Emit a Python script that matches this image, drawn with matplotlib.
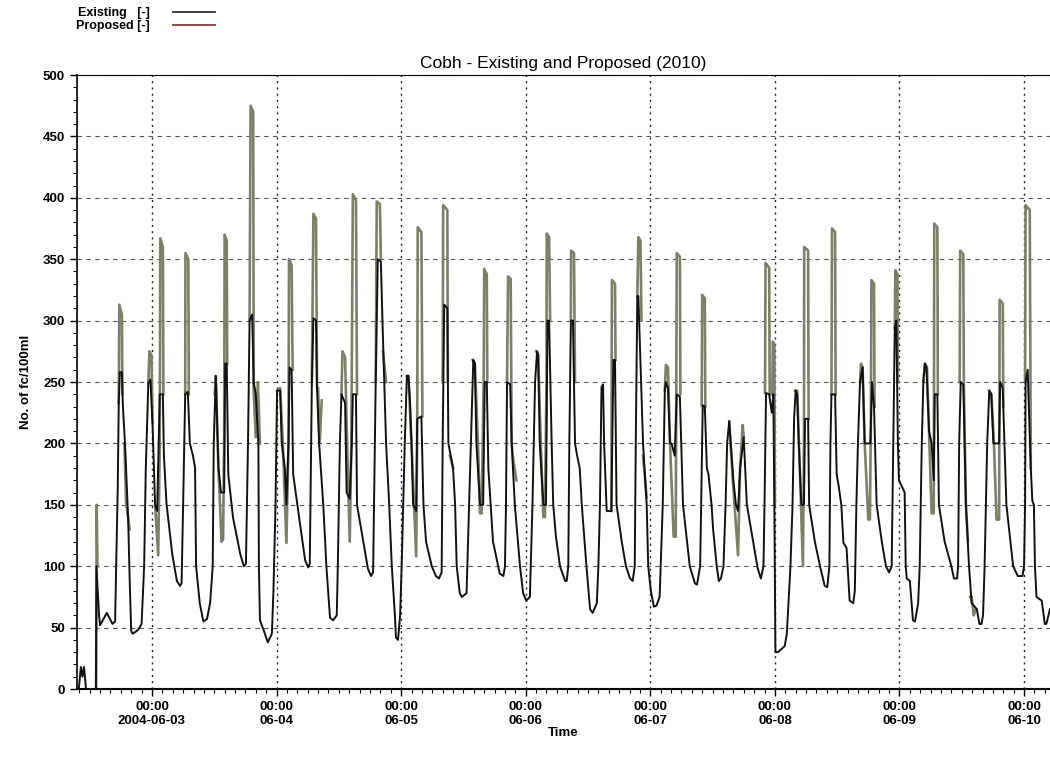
import numpy as np
import pandas as pd
import matplotlib
matplotlib.use("Agg")
import matplotlib.pyplot as plt
import matplotlib.dates as mdates
from matplotlib.ticker import MultipleLocator, FuncFormatter
from matplotlib.lines import Line2D

plt.rcParams['font.family'] = ['Liberation Sans', 'DejaVu Sans']

start = pd.Timestamp("2004-06-02 00:00")

# Existing - hours since 2004-06-02 00:00 and fc/100ml
existing_hours = [
    9.6, 9.9, 10.3, 10.6, 10.9, 11.3, 13.2, 13.3, 13.8, 14.0, 15.3, 16.4, 16.9, 17.1, 17.4, 17.6, 17.8, 18.2,
    18.4, 18.8, 19.4, 19.7, 20.0, 20.3, 21.3, 22.0, 22.5, 22.8, 23.3, 23.7, 24.1, 24.6, 25.0, 25.3, 25.5,
    26.1, 26.3, 26.8, 27.9, 28.8, 29.4, 29.7, 30.0, 30.4, 30.9, 31.3, 31.9, 32.3, 32.5, 33.2, 33.9, 34.6,
    35.2, 35.7, 35.9, 36.3, 36.8, 37.3, 37.9, 38.1, 38.4, 38.7, 39.6, 41.0, 41.7, 42.1, 42.3, 42.5, 42.8,
    43.3, 43.6, 44.0, 44.5, 44.6, 44.8, 45.6, 46.3, 47.1, 47.4, 47.8, 48.1, 48.7, 49.0, 49.6, 49.9, 50.3,
    50.5, 50.9, 51.2, 52.5, 53.5, 54.1, 54.4, 54.8, 55.1, 55.6, 55.8, 56.2, 57.0, 57.6, 58.3, 58.9, 59.6,
    59.8, 60.2, 60.5, 61.2, 61.5, 62.1, 62.5, 62.7, 63.3, 63.5, 64.7, 65.6, 66.2, 66.6, 67.1, 67.5, 68.1,
    68.4, 69.1, 69.7, 70.2, 70.8, 71.0, 71.4, 71.8, 72.1, 72.4, 72.7, 73.1, 73.4, 73.7, 74.0, 74.3, 74.9,
    75.1, 75.9, 76.3, 76.8, 77.9, 78.7, 79.3, 79.8, 80.0, 80.3, 80.9, 81.1, 82.0, 82.4, 82.7, 83.3, 83.7,
    84.6, 85.1, 85.6, 85.9, 86.2, 86.5, 87.2, 87.8, 88.1, 88.5, 88.8, 89.7, 91.0, 91.7, 92.0, 92.2, 92.4,
    93.0, 93.3, 93.9, 94.9, 95.5, 96.1, 96.8, 97.3, 97.8, 98.2, 98.4, 98.7, 99.4, 99.9, 100.2, 100.5, 101.0,
    101.3, 101.8, 102.6, 103.6, 103.9, 104.2, 104.4, 104.7, 105.1, 105.5, 105.9, 106.4, 106.8, 107.7, 108.4,
    108.9, 109.7, 110.0, 110.3, 110.6, 110.9, 111.1, 111.6, 112.5, 112.9, 113.2, 113.5, 114.5, 115.3, 116.1,
    116.6, 117.0, 117.2, 117.5, 117.7, 118.6, 119.3, 119.6, 120.1, 120.7, 121.2, 121.8, 122.4, 122.8, 123.0,
    123.4, 123.8, 124.1, 124.7, 125.1, 125.7, 126.3, 127.6, 128.6, 129.0, 129.6, 129.8, 130.1, 130.5, 130.9,
    131.2, 131.8, 132.1, 132.8, 133.2, 133.6, 134.1, 134.5, 134.8, 135.2, 135.5, 136.0, 136.5, 136.9, 137.3,
    138.0, 138.6, 139.8, 140.7, 141.3, 141.8, 142.0, 142.3, 142.9, 143.4, 143.7, 143.9, 144.1, 144.6, 145.9,
    146.3, 147.0, 147.4, 147.7, 148.0, 148.3, 148.6, 149.1, 149.6, 149.8, 150.4, 150.6, 151.7, 152.7, 153.6,
    154.1, 154.5, 154.7, 154.9, 155.6, 155.9, 156.3, 156.8, 157.2, 157.8, 158.4, 159.1, 159.4, 159.7, 160.0,
    160.4, 160.9, 161.3, 162.0, 162.4, 162.7, 163.1, 163.6, 164.6, 165.4, 166.0, 166.5, 166.8, 167.1, 167.4,
    167.7, 167.9, 169.0, 169.2, 169.4, 170.0, 170.6, 171.0, 171.6, 171.9, 172.3, 172.6, 172.9, 173.2, 173.7,
    174.2, 174.6, 174.8, 175.3, 175.6, 176.7, 178.0, 178.5, 179.1, 179.3, 179.5, 179.8, 180.3, 180.8, 181.4,
    181.9, 182.9, 183.4, 183.8, 184.1, 184.4, 184.9, 185.3, 185.7, 186.1, 186.7, 187.2, 187.4, 187.9, 188.0,
    188.6, 189.9, 190.8, 191.7, 192.0, 192.2, 192.3, 192.7, 193.3, 193.6, 193.9, 194.1, 194.4, 195.4, 196.0,
    196.3, 197.0,
]
existing_values = [
    0, 0, 18, 10, 18, 0, 0, 100, 60, 52, 62, 53, 55, 100, 162, 233, 258, 258,
    230, 200, 140, 90, 47, 45, 48, 53, 101, 178, 249, 252, 217, 150, 145, 200, 240,
    240, 190, 151, 110, 88, 84, 86, 150, 240, 242, 200, 190, 180, 100, 70, 55, 57,
    70, 100, 200, 255, 180, 160, 160, 265, 265, 175, 140, 110, 100, 102, 150, 200, 300,
    305, 250, 240, 200, 100, 56, 47, 38, 45, 80, 150, 243, 243, 200, 180, 150, 200,
    262, 260, 175, 135, 105, 99, 102, 250, 302, 300, 245, 200, 150, 100, 58, 56, 60,
    100, 200, 240, 233, 160, 155, 200, 240, 240, 150, 120, 98, 92, 95, 250, 350, 348,
    300, 200, 150, 100, 60, 42, 40, 60, 100, 150, 200, 255, 255, 235, 200, 150, 145,
    220, 222, 150, 120, 100, 92, 90, 95, 200, 313, 310, 200, 180, 150, 100, 78, 75,
    78, 150, 220, 268, 265, 200, 150, 150, 250, 250, 180, 120, 94, 92, 100, 150, 250,
    248, 200, 150, 100, 78, 72, 75, 150, 250, 275, 272, 200, 150, 150, 300, 300, 200,
    150, 125, 100, 88, 88, 100, 200, 300, 300, 200, 190, 180, 150, 100, 65,
    62, 70, 100, 150, 246, 248, 200, 145, 145, 268, 268, 150, 120, 100, 90,
    88, 100, 200, 320, 320, 200, 150, 100, 80, 67, 68, 75, 150, 243, 250,
    245, 200, 200, 190, 240, 238, 150, 100, 86, 85, 100, 150, 231, 230, 180,
    175, 150, 130, 100, 88, 90, 100, 150, 200, 218, 200, 170, 150, 145, 180,
    205, 150, 120, 98, 90, 100, 150, 241, 240, 225, 240, 150, 30, 30, 35,
    45, 100, 150, 220, 243, 240, 200, 150, 150, 220, 220, 150, 120, 100, 84,
    83, 100, 200, 240, 240, 175, 165, 150, 119, 115, 72, 70, 80, 150, 200,
    250, 262, 200, 200, 200, 250, 230, 150, 120, 100, 95, 100, 200, 294, 300,
    200, 170, 160, 100, 90, 88, 56, 55, 70, 100, 200, 250, 265, 262, 210,
    200, 170, 240, 240, 150, 120, 100, 90, 90, 100, 200, 250, 248, 150, 100,
    70, 65, 53, 53, 60, 100, 200, 243, 240, 200, 200, 200, 250, 245, 230,
    150, 100, 92, 92, 100, 150, 250, 260, 180, 153, 150, 100, 75, 72, 53,
    53, 65,
]

# Proposed - only the parts where it leaves the Existing curve (NaN = gap)
nan = np.nan
proposed_hours = [
    13.25, 13.35, 13.5, nan,
    17.6, 17.7, 18.2, 18.3, nan, 18.7, 19.0, 19.7, nan,
    23.3, 23.5, 23.9, 24.1, nan,
    24.6, 25.2, 25.5, 25.6, 26.1, 26.2, nan,
    30.4, 30.45, 31.0, 31.1, nan,
    36.1, 36.3, 36.8, 37.4, 37.7, 37.9, 38.0, 38.4, 38.5, nan,
    42.8, 43.0, 43.5, 43.6, nan, 43.5, 44.0, 44.4, 44.8, nan,
    48.1, 48.7, 49.2, 49.9, 50.3, 50.4, 50.9, 51.1, nan,
    54.8, 55.1, 55.6, 55.8, nan, 56.0, 56.3, 56.7, nan,
    60.5, 60.7, 61.2, 61.6, 62.1, 62.4, 62.7, 63.3, 63.5, nan,
    67.1, 67.3, 67.9, 68.1, nan, 68.5, 69.1, nan,
    73.1, 73.4, 74.1, 74.9, 75.1, 75.2, 75.9, 76.1, nan,
    80.0, 80.1, 80.9, 81.0, nan, 81.4, 82.0, nan,
    85.8, 86.2, 86.8, 87.2, 87.5, 87.9, 88.0, 88.5, 88.6, nan,
    92.4, 92.6, 93.1, 93.3, 93.5, 94.2, nan,
    98.0, 98.4, 98.9, 99.4, 99.7, 100.0, 100.05, 100.5, 100.7, nan,
    104.7, 104.75, 105.3, 105.5, nan,
    112.5, 112.6, 113.2, 113.3, nan,
    117.5, 117.7, 118.1, 118.3, nan, 118.6, 119.3, nan,
    122.8, 123.0, 123.4, 123.8, 124.5, 124.9, 125.0, 125.1, 125.7, 125.8, nan,
    129.9, 130.0, 130.5, 130.6, nan,
    135.2, 135.9, 136.9, 137.3, 137.8, 138.0, nan,
    142.1, 142.2, 142.9, 143.0, 143.5, 143.6, 143.9, 144.0, nan,
    147.9, 148.3, 148.8, 149.4, 149.6, 149.65, 150.4, 150.5, nan,
    154.9, 155.0, 155.6, 155.7, nan,
    160.4, 160.6, 160.9, 161.3, 162.0, 162.3, 162.5, 162.6, 163.1, 163.2, nan,
    167.1, 167.2, 167.6, 167.7, nan,
    172.6, 172.9, 173.3, 173.7, 174.2, 174.6, 174.65, 174.7, 175.3, 175.4, nan,
    179.6, 179.7, 180.3, 180.4, 180.8, 181.2, nan, 181.6, 181.9, 182.3, 182.7, nan,
    185.3, 185.7, 186.2, 186.7, 187.2, 187.25, 187.3, 187.9, 188.0, nan,
    192.2, 192.3, 193.1, 193.3,
]
proposed_values = [
    0, 150, 100, nan,
    233, 313, 305, 240, nan, 200, 152, 130, nan,
    249, 275, 272, 217, nan,
    150, 109, 200, 367, 360, 240, nan,
    240, 355, 350, 240, nan,
    240, 255, 180, 120, 122, 200, 370, 365, 265, nan,
    300, 475, 470, 250, nan, 252, 205, 250, 200, nan,
    243, 245, 200, 119, 200, 350, 345, 260, nan,
    250, 387, 383, 245, nan, 245, 200, 235, nan,
    240, 275, 270, 200, 120, 200, 403, 398, 240, nan,
    250, 397, 395, 350, nan, 275, 250, nan,
    255, 255, 190, 108, 220, 376, 372, 222, nan,
    250, 394, 390, 250, nan, 190, 180, nan,
    268, 265, 200, 143, 143, 250, 342, 338, 250, nan,
    250, 336, 334, 200, 190, 170, nan,
    275, 272, 200, 140, 140, 250, 371, 368, 300, nan,
    300, 357, 355, 250, nan,
    145, 333, 330, 268, nan,
    320, 368, 365, 300, nan, 190, 156, nan,
    243, 264, 262, 200, 124, 124, 240, 355, 352, 240, nan,
    231, 321, 318, 230, nan,
    218, 170, 109, 180, 215, 205, nan,
    241, 347, 343, 240, 240, 283, 280, 150, nan,
    243, 243, 180, 100, 200, 360, 357, 220, nan,
    240, 375, 372, 240, nan,
    250, 265, 262, 200, 138, 138, 220, 333, 330, 230, nan,
    294, 341, 338, 250, nan,
    250, 265, 262, 210, 143, 143, 240, 379, 376, 240, nan,
    250, 357, 354, 250, 150, 120, nan, 75, 75, 60, 65, nan,
    243, 240, 200, 138, 138, 250, 317, 314, 230, nan,
    250, 394, 390, 180,
]

def to_time(hours):
    return start + pd.to_timedelta(np.array(hours, dtype=float), unit="h")

fig = plt.figure(figsize=(10.5, 7.57), dpi=100)
ax = fig.add_axes([0.0733, 0.0898, 0.9267, 0.8111])

ax.plot(to_time(proposed_hours), proposed_values, color="#7c8068", lw=1.9, zorder=2)
ax.plot(to_time(existing_hours), existing_values, color="#111111", lw=1.4, zorder=3)

ax.set_xlim(to_time([9.55])[0], to_time([197.0])[0])
ax.set_ylim(0, 500)

ax.xaxis.set_major_locator(mdates.DayLocator())
ax.xaxis.set_minor_locator(mdates.HourLocator(byhour=range(0, 24, 2)))

def fmt_date(x, pos):
    d = mdates.num2date(x)
    if d.day == 3:
        return "00:00\n" + d.strftime("%Y-%m-%d")
    return "00:00\n" + d.strftime("%m-%d")

ax.xaxis.set_major_formatter(FuncFormatter(fmt_date))
ax.yaxis.set_major_locator(MultipleLocator(50))
ax.yaxis.set_minor_locator(MultipleLocator(10))

ax.tick_params(axis="both", which="major", direction="out", length=5, width=1, labelsize=9.5)
ax.tick_params(axis="both", which="minor", direction="out", length=3, width=0.8)
for lab in ax.get_xticklabels() + ax.get_yticklabels():
    lab.set_fontweight("bold")

ax.yaxis.grid(True, which="major", linestyle=(0, (4, 4)), color="#555555", lw=0.8)
ax.xaxis.grid(True, which="major", linestyle=(0, (1.5, 3)), color="#222222", lw=1.0)
ax.set_axisbelow(True)

ax.spines["right"].set_visible(False)
ax.spines["top"].set_linewidth(0.8)
ax.spines["bottom"].set_linewidth(1.5)
ax.spines["left"].set_linewidth(1.2)

ax.set_title("Cobh - Existing and Proposed (2010)", fontsize=12.5, pad=5)
ax.set_ylabel("No. of fc/100ml", fontsize=9.5, fontweight="bold", labelpad=8)
ax.set_xlabel("Time", fontsize=9.5, fontweight="bold", labelpad=0)

handles = [Line2D([], [], color="#333333", lw=1.3), Line2D([], [], color="#8b3a3a", lw=1.3)]
leg = fig.legend(handles, ["Existing   [-]", "Proposed [-]"], loc="upper left",
                 bbox_to_anchor=(0.062, 1.005), frameon=False, markerfirst=False,
                 handlelength=3.4, labelspacing=0.05, handletextpad=1.8,
                 prop={"weight": "bold", "size": 9})

fig.savefig("out.png", dpi=100)
